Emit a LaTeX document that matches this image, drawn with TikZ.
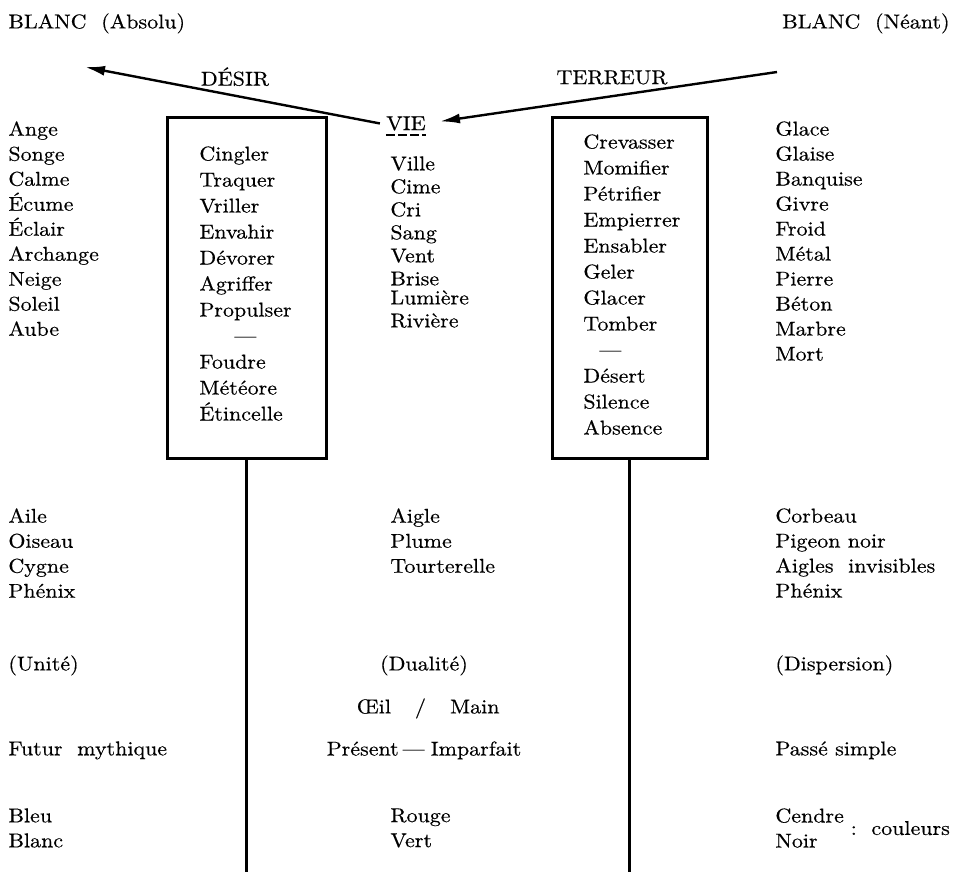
\documentclass[tikz,border=0pt]{standalone}
\usepackage{fontspec}
\setmainfont{Latin Modern Roman}[FakeStretch=1.1, FakeBold=0.4]
\usetikzlibrary{positioning,arrows.meta}

\begin{document}
\begin{tikzpicture}[
    x=0.5pt, y=-0.5pt,
    % text and frame styles
    word/.style={inner sep=0pt, anchor=north west, align=left,
                 font=\fontsize{10}{12.5}\selectfont},
    boxword/.style={word, font=\fontsize{10}{13}\selectfont},
    midword/.style={word, font=\fontsize{10}{11.5}\selectfont},
    centreword/.style={word, anchor=north, align=center},
    frame_box/.style={draw, line width=1.5pt, inner sep=0pt, outer sep=0pt, anchor=north west},
    axis_line/.style={line width=1.5pt},
    pull_arrow/.style={-{Latex[length=10pt,width=5pt]}, line width=1.2pt}
]
\useasboundingbox (0,0) rectangle (958,879);

% Top: the two whites
\node[word] (absolu) at (8,13) {BLANC\ \ (Absolu)};
\node[word, anchor=north east] (neant) at (950,13) {BLANC\ \ (Néant)};

% Forces and life
\node[centreword] (desir) at (235,67) {DÉSIR};
\node[centreword] (terreur) at (612,70) {TERREUR};
\node[centreword] (vie) at (406,116) {VIE};
\draw[line width=0.8pt, dash pattern=on 4.5pt off 1.5pt]
    ([yshift=-2pt]vie.south west) -- ([yshift=-2pt]vie.south east);

\coordinate (desir_end) at (85,67);
\coordinate (terreur_start) at (777,72);
\draw[pull_arrow] ([xshift=-3pt]vie.west) -- (desir_end);
\draw[pull_arrow, shorten >=7pt] (terreur_start) -- (vie.east);

% Left column
\node[word] (ange) at (8,121) {Ange\\Songe\\Calme\\Écume\\Éclair\\Archange\\Neige\\Soleil\\Aube};

% Desire frame
\node[frame_box, minimum width=79.5pt, minimum height=170.5pt] (desir_box) at (167,117) {};
\node[boxword] (cingler) at (199,146) {Cingler\\Traquer\\Vriller\\Envahir\\Dévorer\\Agriffer\\Propulser\\\hspace*{17.5pt}—\\Foudre\\Météore\\Étincelle};

% Middle column
\node[midword] (ville) at (390,156) {Ville\\Cime\\Cri\\Sang\\Vent\\Brise};
\node[midword] (lumiere) at (390,290) {Lumière\\Rivière};

% Terror frame
\node[frame_box, minimum width=77.5pt, minimum height=170.5pt] (terreur_box) at (552,117) {};
\node[boxword] (crevasser) at (583,134) {Crevasser\\Momifier\\Pétrifier\\Empierrer\\Ensabler\\Geler\\Glacer\\Tomber\\\hspace*{8pt}—\\Désert\\Silence\\Absence};

% Right column
\node[word] (glace) at (775,121) {Glace\\Glaise\\Banquise\\Givre\\Froid\\Métal\\Pierre\\Béton\\Marbre\\Mort};

% Axes below the frames
\coordinate (foot) at (0,872);
\draw[axis_line] (desir_box.south) -- (desir_box.south |- foot);
\draw[axis_line] (terreur_box.south) -- (terreur_box.south |- foot);

% Birds
\node[word] (aile) at (8,508) {Aile\\Oiseau\\Cygne\\Phénix};
\node[word] (aigle) at (390,508) {Aigle\\Plume\\Tourterelle};
\node[word] (corbeau) at (775,508) {Corbeau\\Pigeon noir\\Aigles\ \ invisibles\\Phénix};

% Number
\node[word] (unite) at (8,655) {(Unité)};
\node[centreword] (dualite) at (424,655) {(Dualité)};
\node[word] (dispersion) at (775,655) {(Dispersion)};
\node[centreword] (oeil) at (428,698) {Œil\hspace*{12pt}/\hspace*{12pt}Main};

% Tenses
\node[word] (futur) at (8,741) {Futur\ \ mythique};
\node[centreword] (present) at (424,741) {Présent\hspace{2pt}—\hspace{3pt}Imparfait};
\node[word] (passe) at (775,741) {Passé simple};

% Colours
\node[word] (bleu) at (8,808) {Bleu\\Blanc};
\node[word] (rouge) at (390,808) {Rouge\\Vert};
\node[word] (cendre) at (775,808) {Cendre\\Noir};
\node[word, right=3pt of cendre] (couleurs) {:\ \ couleurs};

\end{tikzpicture}
\end{document}
